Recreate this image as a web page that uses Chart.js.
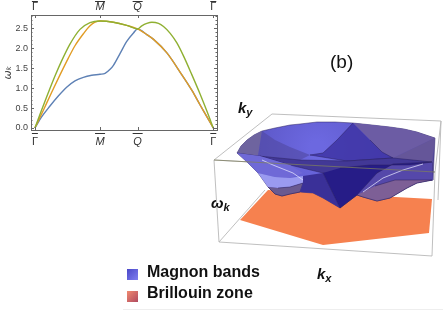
<!DOCTYPE html>
<html lang="en">
<head>
<meta charset="UTF-8" />
<title>Magnon bands</title>
<script src="https://cdn.jsdelivr.net/npm/chart.js"></script>
<style>
  body { margin: 0; background: #fff; width: 443px; height: 311px; overflow: hidden; position: relative; font-family: "Liberation Sans", Arial, sans-serif; }
  canvas { position: absolute; left: 0; top: 0; }
  .t { position: absolute; color: #111; white-space: nowrap; line-height: 1; }
  .b { font-weight: bold; font-size: 16px; }
  .k { font-weight: bold; font-style: italic; font-size: 15px; }
  .k sub { font-size: 11px; vertical-align: -3px; line-height: 0; }
  .sw { position: absolute; left: 127px; width: 11px; height: 11px; }
</style>
</head>
<body>

<canvas id="surface" width="443" height="311"></canvas>
<div style="position:absolute;left:0;top:0;width:225px;height:150px"><canvas id="bands" width="225" height="150"></canvas></div>

<div class="t" style="left:330px;top:52px;font-size:19px">(b)</div>
<div class="t k" style="left:238px;top:100px">k<sub>y</sub></div>
<div class="t k" style="left:211px;top:195px">ω<sub>k</sub></div>
<div class="t k" style="left:317px;top:266px">k<sub>x</sub></div>
<div class="sw" style="top:269px;background:linear-gradient(135deg,#4a48c8,#7f7ff0)"></div>
<div class="t b" style="left:147px;top:264px">Magnon bands</div>
<div class="sw" style="top:291px;background:linear-gradient(135deg,#f08a70,#b04a60)"></div>
<div class="t b" style="left:147px;top:285px">Brillouin zone</div>
<div style="position:absolute;left:123px;top:309px;width:320px;height:1px;background:#eee"></div>

<script>
  // band structure
  const blueK = [0, 0.1, 0.231, 0.359, 0.487, 0.615, 0.744, 0.872, 1, 1.077, 1.154, 1.205, 1.308, 1.41, 1.513, 1.574, 1.718, 1.821, 2.026, 2.256, 2.41, 2.538, 2.641, 2.738];
  const blueW = [0, 0.27, 0.55, 0.80, 1.02, 1.18, 1.27, 1.32, 1.345, 1.37, 1.47, 1.57, 1.87, 2.17, 2.38, 2.48, 2.34, 2.22, 1.88, 1.33, 0.94, 0.57, 0.28, 0];
  const orangeK = [0, 0.128, 0.256, 0.385, 0.513, 0.615, 0.744, 0.846, 0.923, 1, 1.205, 1.41, 1.574, 1.718, 1.821, 2.026, 2.256, 2.41, 2.538, 2.641, 2.738];
  const orangeW = [0, 0.44, 0.89, 1.33, 1.75, 2.06, 2.36, 2.56, 2.65, 2.68, 2.65, 2.57, 2.48, 2.34, 2.22, 1.88, 1.33, 0.94, 0.57, 0.28, 0];
  const greenK = [0, 0.103, 0.205, 0.308, 0.41, 0.538, 0.692, 0.846, 1, 1.205, 1.41, 1.574, 1.641, 1.718, 1.795, 1.897, 1.974, 2.077, 2.179, 2.282, 2.41, 2.538, 2.641, 2.738];
  const greenW = [0, 0.45, 0.88, 1.30, 1.68, 2.10, 2.47, 2.64, 2.68, 2.65, 2.57, 2.48, 2.56, 2.62, 2.65, 2.62, 2.54, 2.37, 2.13, 1.80, 1.33, 0.84, 0.42, 0];

  const pathTicks = [0, 1, 1.577, 2.738];
  const pathLabels = ['Γ', 'M', 'Q', 'Γ'];
  const omegaTicks = [0, 0.5, 1, 1.5, 2, 2.5];

  // 3D panel, projected outlines
  const hexX = [240, 268, 432, 429, 323];
  const hexY = [220, 190, 199, 233, 245];
  const topFaceX = [272, 441, 435, 214, 272];
  const topFaceY = [114, 121, 172, 160, 114];
  const floorX = [265, 219, 432];
  const floorY = [190, 242, 256];
  const postLeftX = [214, 219], postLeftY = [160, 242];
  const postRightX = [435, 432], postRightY = [172, 256];
  const postBackX = [441, 438], postBackY = [121, 200];
  const frontEdgeX = [214, 435], frontEdgeY = [160, 172];

  const domeX = [237, 241, 247, 254, 262, 275, 290, 300, 317, 335, 353, 372, 390, 404, 417, 426, 435, 433, 417, 407, 390, 377, 363, 357, 340, 323, 313, 300, 290, 282, 275, 268, 258, 247, 237];
  const domeY = [153, 146, 140, 135, 131, 128, 125, 124, 122, 122, 123, 125, 127, 129, 132, 135, 138, 180, 183, 188, 198, 201, 197, 195, 208, 198, 193, 192, 194, 196, 194, 187, 173, 162, 153];
  const rightSlopeX = [353, 372, 390, 404, 417, 426, 435, 393, 382, 370];
  const rightSlopeY = [123, 125, 127, 129, 132, 135, 138, 158, 152, 140];
  const leftCapX = [237, 241, 247, 254, 262, 258];
  const leftCapY = [153, 146, 140, 135, 131, 156];
  const leftSlopeX = [262, 275, 290, 310, 300, 258];
  const leftSlopeY = [131, 140, 147, 155, 160, 156];
  const peakX = [353, 337, 323, 310, 347, 393, 382, 370];
  const peakY = [123, 140, 153, 155, 161, 158, 152, 140];
  const rightTriX = [435, 393, 432];
  const rightTriY = [138, 158, 162];
  const bandX = [237, 258, 300, 347, 393, 432, 433, 420, 407, 377, 340, 323, 290, 260];
  const bandY = [153, 156, 160, 161, 158, 162, 180, 180, 187, 173, 175, 173, 165, 156];
  const leftMidX = [237, 260, 290, 303, 290, 275, 258, 247];
  const leftMidY = [153, 156, 165, 173, 178, 177, 173, 162];
  const leftLightX = [258, 275, 290, 303, 303, 290, 278, 268];
  const leftLightY = [173, 177, 178, 176, 183, 187, 188, 187];
  const lobeLeftX = [268, 275, 282, 290, 300, 303, 290, 278];
  const lobeLeftY = [187, 194, 196, 194, 192, 183, 187, 188];
  const rightWingX = [357, 377, 393, 432, 433, 417, 407, 390, 377, 363];
  const rightWingY = [195, 173, 164, 162, 180, 183, 188, 198, 201, 197];
  const lobeRightX = [357, 363, 377, 390, 407, 417, 432, 395, 375];
  const lobeRightY = [195, 197, 201, 198, 188, 183, 180, 180, 186];
  const vLeftX = [303, 323, 340, 323, 313, 300, 303];
  const vLeftY = [176, 173, 208, 198, 193, 192, 183];
  const vDarkX = [323, 340, 357, 377, 393, 432, 410, 370, 340];
  const vDarkY = [173, 208, 195, 173, 164, 162, 165, 165, 168];
  const glintLeftX = [262, 273, 293, 303];
  const glintLeftY = [160, 165, 173, 180];
  const glintRightX = [363, 383, 403, 423];
  const glintRightY = [192, 178, 170, 164];

  function pts(xs, ys) {
    return xs.map((x, i) => ({ x, y: ys[i] }));
  }

  function series(xs, ys, color, order) {
    return {
      data: pts(xs, ys),
      showLine: true,
      order,
      borderColor: color,
      borderWidth: 1.4,
      pointRadius: 0,
      cubicInterpolationMode: 'monotone',
      fill: false
    };
  }

  // Mathematica style frame, ticks pointing in, bars over the path labels
  const frameTicks = {
    id: 'frameTicks',
    afterDraw(chart) {
      const { ctx, chartArea: a, scales } = chart;
      ctx.save();
      ctx.strokeStyle = '#666';
      ctx.lineWidth = 1;
      ctx.strokeRect(a.left + 0.5, a.top + 0.5, a.width, a.height);
      ctx.beginPath();
      for (let i = 0; i <= 28; i++) {
        const y = Math.round(scales.y.getPixelForValue(i / 10)) + 0.5;
        const len = i % 5 === 0 ? 3 : 1.5;
        ctx.moveTo(a.left, y); ctx.lineTo(a.left + len, y);
        ctx.moveTo(a.right, y); ctx.lineTo(a.right - len, y);
      }
      pathTicks.forEach(k => {
        const x = Math.round(scales.x.getPixelForValue(k)) + 0.5;
        ctx.moveTo(x, a.bottom); ctx.lineTo(x, a.bottom - 3);
        ctx.moveTo(x, a.top); ctx.lineTo(x, a.top + 3);
      });
      ctx.stroke();
      ctx.strokeStyle = '#333';
      ctx.beginPath();
      pathTicks.forEach((k, i) => {
        const x = scales.x.getPixelForValue(k);
        const half = pathLabels[i] === 'Γ' ? 3 : 5;
        [1.5, a.bottom + 3.5].forEach(y => {
          ctx.moveTo(x - half, y); ctx.lineTo(x + half, y);
        });
      });
      ctx.stroke();
      ctx.restore();
    }
  };

  function pathAxis(position, size, pad) {
    return {
      type: 'linear',
      position,
      min: -0.06,
      max: 2.795,
      grid: { display: false, drawTicks: false },
      border: { display: false },
      afterBuildTicks: s => { s.ticks = pathTicks.map(value => ({ value })); },
      afterFit: s => { s.height = size; },
      ticks: {
        autoSkip: false,
        maxRotation: 0,
        padding: pad,
        color: '#333',
        font: c => ({ family: '"Liberation Sans"', size: 11, style: c.index === 1 || c.index === 2 ? 'italic' : 'normal' }),
        callback: (v, i) => pathLabels[i]
      }
    };
  }

  new Chart(document.getElementById('bands'), {
    type: 'scatter',
    data: {
      datasets: [
        series(greenK, greenW, '#8FB032', 1),
        series(orangeK, orangeW, '#E19C24', 2),
        series(blueK, blueW, '#5E81B5', 3)
      ]
    },
    options: {
      responsive: false,
      animation: false,
      layout: { padding: { right: 8 } },
      plugins: { legend: { display: false }, tooltip: { enabled: false } },
      scales: {
        x: pathAxis('bottom', 20, 5),
        xTop: pathAxis('top', 15, 1),
        y: {
          min: -0.05,
          max: 2.83,
          grid: { display: false, drawTicks: false },
          border: { display: false },
          afterBuildTicks: s => { s.ticks = omegaTicks.map(value => ({ value })); },
          afterFit: s => { s.width = 31; },
          ticks: {
            padding: 3,
            color: '#444',
            font: { family: '"Liberation Sans"', size: 9 },
            callback: v => v.toFixed(1)
          },
          title: {
            display: true,
            text: 'ωₖ',
            padding: { top: 2, bottom: 0 },
            color: '#444',
            font: { family: '"DejaVu Sans"', size: 11, style: 'italic' }
          }
        }
      }
    },
    plugins: [frameTicks]
  });

  // painter's order, back to front
  const surfaceCtx = document.getElementById('surface').getContext('2d');
  const domeFill = surfaceCtx.createRadialGradient(317, 148, 8, 325, 150, 110);
  domeFill.addColorStop(0, '#6C68E0');
  domeFill.addColorStop(0.5, '#5F5ACB');
  domeFill.addColorStop(1, '#5A4FA0');

  const boxLine = '#b8b8b8';
  const edge = 'rgba(40,30,90,0.55)';
  const layers = [
    { x: floorX, y: floorY, line: boxLine },
    { x: postLeftX, y: postLeftY, line: boxLine },
    { x: postRightX, y: postRightY, line: boxLine },
    { x: postBackX, y: postBackY, line: boxLine },
    { x: hexX, y: hexY, fill: '#F6814F' },
    { x: topFaceX, y: topFaceY, line: boxLine },
    { x: domeX, y: domeY, fill: domeFill, line: edge },
    { x: leftCapX, y: leftCapY, fill: '#6E649F' },
    { x: leftSlopeX, y: leftSlopeY, fill: 'rgba(80,72,160,0.6)' },
    { x: rightSlopeX, y: rightSlopeY, fill: '#6C5CA4' },
    { x: peakX, y: peakY, fill: 'rgba(62,52,165,0.85)', line: edge },
    { x: rightTriX, y: rightTriY, fill: '#655699' },
    { x: bandX, y: bandY, fill: '#423896', line: edge },
    { x: leftMidX, y: leftMidY, fill: '#6F69D7' },
    { x: leftLightX, y: leftLightY, fill: '#9A9AF0' },
    { x: rightWingX, y: rightWingY, fill: '#5548AA' },
    { x: lobeRightX, y: lobeRightY, fill: '#7D5F96', line: edge },
    { x: lobeLeftX, y: lobeLeftY, fill: '#6A5A90', line: edge },
    { x: vLeftX, y: vLeftY, fill: '#3A3098' },
    { x: vDarkX, y: vDarkY, fill: '#261C87', line: edge },
    { x: glintLeftX, y: glintLeftY, line: 'rgba(235,235,255,0.8)' },
    { x: glintRightX, y: glintRightY, line: 'rgba(235,235,255,0.8)' },
    { x: frontEdgeX, y: frontEdgeY, line: 'rgba(125,125,95,0.85)' }
  ];

  new Chart(surfaceCtx, {
    type: 'scatter',
    data: {
      datasets: layers.map((l, i) => ({
        data: pts(l.x, l.y),
        showLine: true,
        pointRadius: 0,
        tension: 0,
        order: layers.length - i,
        borderColor: l.line || 'transparent',
        borderWidth: l.line ? 0.9 : 0,
        backgroundColor: l.fill || 'transparent',
        fill: l.fill ? 'shape' : false
      }))
    },
    options: {
      responsive: false,
      animation: false,
      plugins: { legend: { display: false }, tooltip: { enabled: false } },
      scales: {
        x: { display: false, min: 0, max: 443 },
        y: { display: false, min: 0, max: 311, reverse: true }
      }
    }
  });
</script>

</body>
</html>
